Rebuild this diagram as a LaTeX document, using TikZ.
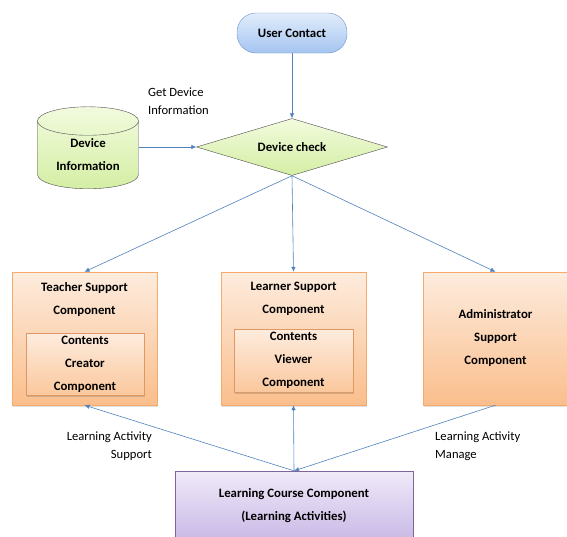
\documentclass[tikz,border=0pt]{standalone}
\usepackage{fontspec}
\setmainfont{Carlito}
\usetikzlibrary{shapes.geometric,shadows,arrows.meta}

\definecolor{linkblue}{RGB}{79,129,189}
\definecolor{peachtop}{RGB}{253,236,222}
\definecolor{peachbot}{RGB}{250,190,140}
\definecolor{peachline}{RGB}{245,170,110}
\definecolor{greentop}{RGB}{242,251,222}
\definecolor{greenbot}{RGB}{212,238,164}
\definecolor{bluetop}{RGB}{226,237,251}
\definecolor{bluebot}{RGB}{164,196,240}
\definecolor{blueline}{RGB}{110,147,200}
\definecolor{lilactop}{RGB}{240,234,248}
\definecolor{lilacbot}{RGB}{200,184,230}
\definecolor{lilacline}{RGB}{128,100,162}

\tikzset{
  link/.style={draw=linkblue, line width=0.6pt, -{Latex[length=5pt,width=4.5pt]}},
  boxtext/.style={font=\bfseries\fontsize{12.8}{23}\selectfont, align=center, inner sep=0pt},
  note/.style={font=\fontsize{12.6}{18}\selectfont, inner sep=0pt},
  component/.style={draw=peachline, top color=peachtop, bottom color=peachbot,
    minimum width=145pt, minimum height=133pt, inner sep=0pt,
    drop shadow={opacity=0.25, shadow xshift=1pt, shadow yshift=-1.5pt}},
  subcomponent/.style={draw=peachline!90!black, top color=peachtop, bottom color=peachbot!85,
    inner sep=0pt, drop shadow={opacity=0.35, shadow xshift=1pt, shadow yshift=-1.5pt}}
}

\begin{document}
\begin{tikzpicture}[x=1pt, y=-1pt]

\useasboundingbox (0,0) rectangle (567,536);
\clip (0,0) rectangle (567,536);

% top part
\node[boxtext, draw=blueline, top color=bluetop, bottom color=bluebot, rounded corners=19pt,
  minimum width=110pt, minimum height=40pt] (user) at (292,33) {User Contact};

\node[boxtext, diamond, aspect=3.35, draw=black!70, top color=greentop, bottom color=greenbot,
  minimum width=191pt, minimum height=57pt] (check) at (292,147) {Device check};

\node[boxtext, cylinder, shape border rotate=90, aspect=0.45, draw=black!70,
  top color=greentop, bottom color=greenbot,
  minimum width=101pt, minimum height=82pt] (devinfo) at (88,155) {Device\\Information};

% support components
\node[component] (teacher) at (84.5,338.5) {};
\node[boxtext] (teacherlbl) at (84.5,299.5) {Teacher Support\\Component};
\node[boxtext, subcomponent, minimum width=118pt, minimum height=62pt] (creator) at (85,364)
  {Contents\\Creator\\Component};

\node[component] (learner) at (293.5,338.5) {};
\node[boxtext] (learnerlbl) at (293.5,299) {Learner Support\\Component};
\node[boxtext, subcomponent, minimum width=119pt, minimum height=63pt] (viewer) at (293.5,360.5)
  {Contents\\Viewer\\Component};

\node[component, boxtext] (admin) at (495.5,338.5) {Administrator\\Support\\Component};

% course
\node[boxtext, draw=lilacline, top color=lilactop, bottom color=lilacbot,
  minimum width=238pt, minimum height=70pt] (course) at (294,506)
  {Learning Course Component\\(Learning Activities)};

% arrows
\draw[link] (user) -- (check);
\draw[link] (devinfo.east |- check) -- (check);
\draw[link] (check.south) -- (teacher.north);
\draw[link] (check.south) -- (learner.north);
\draw[link] (check.south) -- (admin.north);
\draw[link] (course.north) -- (teacher.south);
\draw[link] (course.north) -- (learner.south);
\draw[link] (admin.south) -- (course.north);

% labels
\node[note, align=left, anchor=west] (getinfo) at (148,101) {Get Device\\Information};
\node[note, align=right, anchor=east] (supportlbl) at (152,446) {Learning Activity\\Support};
\node[note, align=left, anchor=west] (managelbl) at (435,446) {Learning Activity\\Manage};

\end{tikzpicture}
\end{document}
